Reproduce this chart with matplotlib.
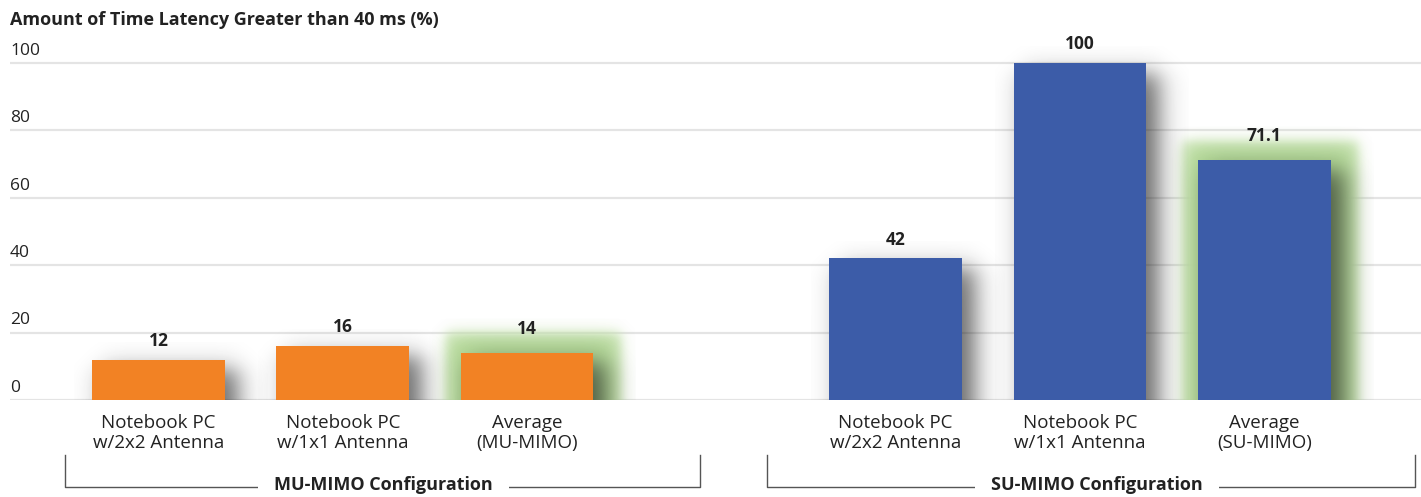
import numpy as np
import matplotlib
matplotlib.use("Agg")
from matplotlib import pyplot as plt
from matplotlib.transforms import blended_transform_factory

plt.rcParams['font.family'] = ['Open Sans', 'DejaVu Sans']

# data
categories = ['Notebook PC\nw/2x2 Antenna', 'Notebook PC\nw/1x1 Antenna', 'Average\n(MU-MIMO)',
              'Notebook PC\nw/2x2 Antenna', 'Notebook PC\nw/1x1 Antenna', 'Average\n(SU-MIMO)']
values = [12, 16, 14, 42, 100, 71.1]
value_labels = ['12', '16', '14', '42', '100', '71.1']
is_average = [False, False, True, False, False, True]
groups = ['MU-MIMO Configuration', 'SU-MIMO Configuration']
yticks = [0, 20, 40, 60, 80, 100]
title = 'Amount of Time Latency Greater than 40 ms (%)'

positions = [0, 1, 2, 4, 5, 6]
colors = ['#F28224'] * 3 + ['#3C5CA8'] * 3
bar_w = 0.72
TEXT = '#222222'
FS = 12.5


def soft_rect(ax, x0, x1, y0, y1, rgb, alpha, bx, by, zorder):
    # blurred rectangle drawn as an RGBA image, hard edge at the bottom
    xs = np.linspace(x0 - 4 * bx, x1 + 4 * bx, 200)
    ys = np.linspace(y0, y1 + 4 * by, 200)
    sig = lambda t: 1.0 / (1.0 + np.exp(-t))
    ax_ = sig((xs - x0) / bx) * sig((x1 - xs) / bx)
    ay_ = sig((y1 - ys) / by)
    a = np.outer(ay_, ax_) * alpha
    img = np.zeros((len(ys), len(xs), 4))
    img[..., :3] = rgb
    img[..., 3] = a
    ax.imshow(img, extent=(xs[0], xs[-1], ys[0], ys[-1]), origin='lower',
              aspect='auto', interpolation='bilinear', zorder=zorder)


fig = plt.figure(figsize=(14.21, 4.97), dpi=100)
ax = fig.add_axes([10 / 1421, 97 / 497, 1411 / 1421, 370 / 497])

for yt in yticks:
    ax.axhline(yt, color='#e4e4e4', lw=1.6, zorder=0)
    ax.annotate(str(yt), xy=(0, yt), xycoords=ax.get_yaxis_transform(),
                xytext=(0, 3), textcoords='offset points', ha='left', va='bottom',
                fontsize=FS, color=TEXT)

for x, v, avg in zip(positions, values, is_average):
    left, right = x - bar_w / 2, x + bar_w / 2
    if avg:
        # green highlight behind the average bars: pale outer layer, stronger core
        soft_rect(ax, left - 0.085, right + 0.15, 0, v + 5.8,
                  (0.80, 0.90, 0.72), 1.0, 0.018, 1.0, zorder=1)
        soft_rect(ax, left - 0.05, right + 0.11, 0, v + 3.8,
                  (0.66, 0.83, 0.54), 0.75, 0.03, 1.6, zorder=1.5)
    # drop shadow to the lower right
    soft_rect(ax, left + 0.06, right + 0.07, 0, v - 3,
              (0.1, 0.1, 0.1), 0.65, 0.04, 2.0, zorder=2)

bars = ax.bar(positions, values, width=bar_w, color=colors, zorder=3)

for x, v, lab, avg in zip(positions, values, value_labels, is_average):
    ax.annotate(lab, xy=(x, v), xytext=(0, 11 if avg else 7), textcoords='offset points',
                ha='center', va='bottom', fontsize=FS, fontweight='bold', color=TEXT, zorder=5)

for x, lab in zip(positions, categories):
    ax.annotate(lab, xy=(x, 0), xytext=(0, -10), textcoords='offset points',
                ha='center', va='top', fontsize=13.5, color=TEXT, linespacing=1.12)

# group brackets underneath the category labels
tr = blended_transform_factory(ax.transData, fig.transFigure)
bracket_x = [(-0.507, 2.94), (3.30, 6.82)]
label_x = [1.22, 5.09]
y_top, y_bot = 42 / 497, 10 / 497
for (bx0, bx1), lx, g in zip(bracket_x, label_x, groups):
    ax.plot([bx0, bx0, bx1, bx1], [y_top, y_bot, y_bot, y_top], transform=tr,
            color='#555555', lw=1.0, clip_on=False)
    ax.text(lx, y_bot + 0.004, g, transform=tr, ha='center', va='center', fontsize=13,
            fontweight='bold', color=TEXT,
            bbox=dict(boxstyle='square,pad=0.9', fc='white', ec='none'))

fig.text(10 / 1421, 1 - 20 / 497, title, ha='left', va='center', fontsize=13,
         fontweight='bold', color=TEXT)

ax.set_xlim(-0.806, 6.85)
ax.set_ylim(0, 109.8)
ax.axis('off')

fig.savefig('out.png', dpi=100)
